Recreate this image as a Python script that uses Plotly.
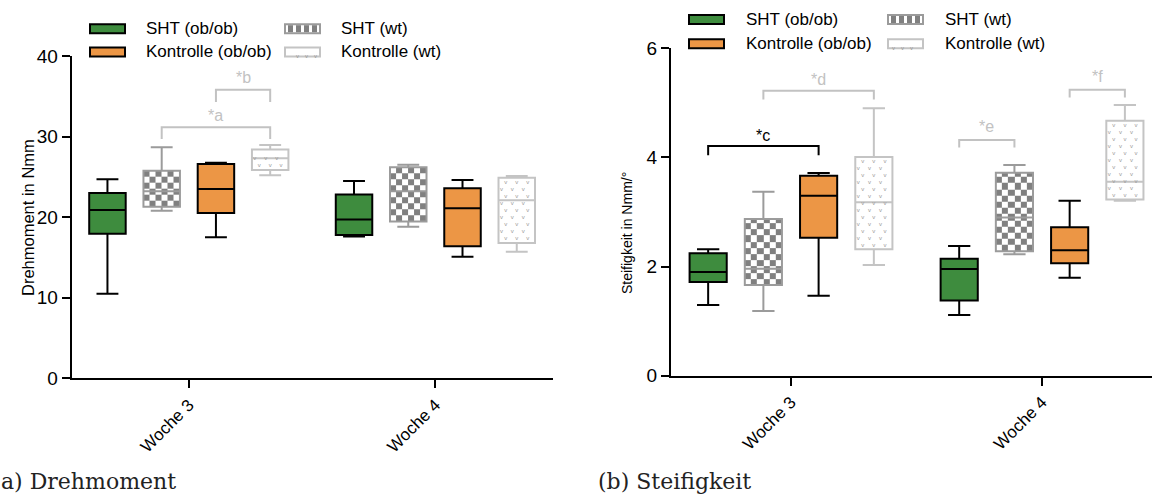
import numpy as np
import plotly.graph_objects as go

W, H = 1152, 495

categories = ["Woche 3", "Woche 4"]
groups = ["SHT (ob/ob)", "SHT (wt)", "Kontrolle (ob/ob)", "Kontrolle (wt)"]

# five-number summaries [lower whisker, Q1, median, Q3, upper whisker] for [Woche 3, Woche 4]
dreh_sht_ob = [[10.5, 17.95, 20.9, 23.0, 24.7], [17.6, 17.8, 19.7, 22.8, 24.5]]
dreh_sht_wt = [[20.8, 21.3, 23.2, 25.77, 28.67], [18.8, 19.45, 23.2, 26.2, 26.5]]
dreh_kon_ob = [[17.5, 20.5, 23.5, 26.6, 26.76], [15.1, 16.4, 21.1, 23.6, 24.6]]
dreh_kon_wt = [[25.2, 25.85, 27.3, 28.4, 28.96], [15.7, 16.8, 22.1, 24.9, 25.1]]

steif_sht_ob = [[1.296, 1.717, 1.90, 2.243, 2.316], [1.112, 1.38, 1.955, 2.144, 2.377]]
steif_sht_wt = [[1.186, 1.662, 1.96, 2.87, 3.37], [2.225, 2.28, 2.90, 3.72, 3.86]]
steif_kon_ob = [[1.466, 2.53, 3.30, 3.665, 3.715], [1.796, 2.06, 2.30, 2.72, 3.207]]
steif_kon_wt = [[2.03, 2.316, 3.18, 4.008, 4.90], [3.207, 3.23, 3.555, 4.67, 4.96]]

# significance brackets: (label, category index, group from, group to, bracket y, leg end y, label y, colour key)
dreh_sig = [("*a", 0, 1, 3, 31.15, 29.7, 32.6, "grey"),
            ("*b", 0, 2, 3, 35.8, 34.3, 37.3, "grey")]
steif_sig = [("*c", 0, 0, 2, 4.21, 4.04, 4.40, "black"),
             ("*d", 0, 1, 3, 5.22, 5.06, 5.43, "grey"),
             ("*e", 1, 0, 1, 4.32, 4.18, 4.57, "grey"),
             ("*f", 1, 2, 3, 5.24, 5.10, 5.49, "grey")]

GREEN = "#3E8C3E"
ORANGE = "#EC9645"
CHK_LINE = "#9B9B9B"
CHK_FILL = "#808080"
KWT_LINE = "#C4C4C4"
V_COL = "#9A9A9A"
SIG_GREY = "#C2C2C2"
FONT = "Liberation Sans, Arial, sans-serif"

offsets = [-0.33, -0.11, 0.11, 0.33]
box_w = 0.148

panels = [
    dict(xa="x", ya="y", xd=[71.7 / W, 553 / W], yd=[1 - 378.3 / H, 1 - 56 / H],
         xr=[-0.475, 1.477], yr=[0, 40], dtick=10,
         data=[dreh_sht_ob, dreh_sht_wt, dreh_kon_ob, dreh_kon_wt], sig=dreh_sig),
    dict(xa="x2", ya="y2", xd=[671 / W, 1.0], yd=[1 - 375.7 / H, 1 - 48.3 / H],
         xr=[-0.478, 1.438], yr=[0, 6], dtick=2,
         data=[steif_sht_ob, steif_sht_wt, steif_kon_ob, steif_kon_wt], sig=steif_sig),
]

styles = [
    dict(fill=GREEN, line="black"),
    dict(fill="rgba(0,0,0,0)", line=CHK_LINE),
    dict(fill=ORANGE, line="black"),
    dict(fill="rgba(0,0,0,0)", line=KWT_LINE),
]

fig = go.Figure()

for p in panels:
    ppx = (p["xd"][1] - p["xd"][0]) * W / (p["xr"][1] - p["xr"][0])
    ppy = (p["yd"][1] - p["yd"][0]) * H / (p["yr"][1] - p["yr"][0])
    # decorative patterns
    for gi, g in enumerate(groups):
        for ci, summ in enumerate(p["data"][gi]):
            c = ci + offsets[gi]
            q1, q3 = summ[1], summ[3]
            if gi == 1:
                ncol = 6
                xe = np.linspace(c - box_w / 2, c + box_w / 2, ncol + 1)
                sq = (box_w / ncol) * ppx / ppy
                ye = list(np.arange(q1, q3, sq))
                if q3 - ye[-1] > 1e-9:
                    ye.append(q3)
                z = [[(i + j) % 2 for j in range(ncol)] for i in range(len(ye) - 1)]
                fig.add_trace(go.Heatmap(x=xe, y=ye, z=z, xaxis=p["xa"], yaxis=p["ya"],
                                         colorscale=[[0, "white"], [1, CHK_FILL]], zmin=0, zmax=1,
                                         showscale=False, hoverinfo="skip"))
            if gi == 3:
                dy = 7.0 / ppy
                xs, ys = [], []
                y = q1 + dy * 0.6
                r = 0
                while y < q3 - dy * 0.4:
                    fr = [0.2, 0.5, 0.8] if r % 2 == 0 else [0.08, 0.38, 0.68]
                    for f in fr:
                        xs.append(c - box_w / 2 + f * box_w)
                        ys.append(y)
                    y += dy
                    r += 1
                fig.add_trace(go.Scatter(x=xs, y=ys, mode="text", text=["v"] * len(xs),
                                         textfont=dict(size=6, color=V_COL, family=FONT),
                                         xaxis=p["xa"], yaxis=p["ya"], hoverinfo="skip",
                                         showlegend=False))
    # boxes
    for gi, g in enumerate(groups):
        d = p["data"][gi]
        fig.add_trace(go.Box(
            x=[ci + offsets[gi] for ci in range(len(categories))],
            lowerfence=[s[0] for s in d], q1=[s[1] for s in d], median=[s[2] for s in d],
            q3=[s[3] for s in d], upperfence=[s[4] for s in d],
            width=box_w, whiskerwidth=0.6, boxpoints=False,
            fillcolor=styles[gi]["fill"], line=dict(color=styles[gi]["line"], width=2),
            name=g, showlegend=False, xaxis=p["xa"], yaxis=p["ya"], hoverinfo="skip"))
    # significance brackets
    for lab, ci, ga, gb, yb, yl, ylab, col in p["sig"]:
        colr = "black" if col == "black" else SIG_GREY
        xa_ = ci + offsets[ga]
        xb_ = ci + offsets[gb]
        fig.add_trace(go.Scatter(x=[xa_, xa_, xb_, xb_], y=[yl, yb, yb, yl], mode="lines",
                                 line=dict(color=colr, width=2), xaxis=p["xa"], yaxis=p["ya"],
                                 hoverinfo="skip", showlegend=False))
        fig.add_annotation(x=(xa_ + xb_) / 2, y=ylab, xref=p["xa"], yref=p["ya"], text=lab,
                           showarrow=False, font=dict(size=16, color=colr, family=FONT),
                           xanchor="center", yanchor="middle")

axis_common = dict(showline=True, linecolor="black", linewidth=2, ticks="outside", ticklen=8,
                   tickwidth=2, tickcolor="black", showgrid=False, zeroline=False,
                   automargin=False, tickfont=dict(size=19, family=FONT, color="black"))

layout_axes = {}
for i, p in enumerate(panels):
    sx = "" if i == 0 else "2"
    layout_axes["xaxis" + sx] = dict(axis_common, domain=p["xd"], range=p["xr"],
                                     tickvals=list(range(len(categories))), ticktext=categories,
                                     tickangle=-45, anchor=p["ya"],
                                     tickfont=dict(size=17, family=FONT, color="black"))
    layout_axes["yaxis" + sx] = dict(axis_common, domain=p["yd"], range=p["yr"],
                                     tick0=0, dtick=p["dtick"], anchor=p["xa"])

fig.update_layout(width=W, height=H, margin=dict(l=0, r=0, t=0, b=0, pad=0, autoexpand=False),
                  paper_bgcolor="white", plot_bgcolor="white", showlegend=False,
                  **layout_axes)


def px(x):
    return x / W


def py(y):
    return 1 - y / H


# manual legends (wide flat swatches like the original)
legend_sets = [
    dict(cols=[90, 285], text_x=[144, 339], rows=[28.7, 51.9]),
    dict(cols=[689, 888], text_x=[743.5, 943], rows=[19.5, 43.8]),
]
legend_layout = [(0, 0, groups[0]), (0, 1, groups[2]), (1, 0, groups[1]), (1, 1, groups[3])]
sw_w, sw_h = 35, 9

for ls in legend_sets:
    for col, row, g in legend_layout:
        x0 = ls["cols"][col]
        yc = ls["rows"][row]
        gi = groups.index(g)
        if gi in (0, 2):
            fig.add_shape(type="rect", xref="paper", yref="paper", x0=px(x0), x1=px(x0 + sw_w),
                          y0=py(yc + sw_h / 2), y1=py(yc - sw_h / 2),
                          fillcolor=GREEN if gi == 0 else ORANGE, line=dict(color="black", width=2))
        elif gi == 1:
            fig.add_shape(type="rect", xref="paper", yref="paper", x0=px(x0), x1=px(x0 + sw_w),
                          y0=py(yc + sw_h / 2), y1=py(yc - sw_h / 2),
                          fillcolor="white", line=dict(color=CHK_LINE, width=2))
            for k in range(4):
                bx = x0 + 3 + k * 8
                fig.add_shape(type="rect", xref="paper", yref="paper", x0=px(bx), x1=px(bx + 5),
                              y0=py(yc + sw_h / 2 - 1), y1=py(yc - sw_h / 2 + 1),
                              fillcolor=CHK_FILL, line=dict(width=0))
        else:
            fig.add_shape(type="rect", xref="paper", yref="paper", x0=px(x0), x1=px(x0 + sw_w),
                          y0=py(yc + sw_h / 2), y1=py(yc - sw_h / 2),
                          fillcolor="white", line=dict(color=KWT_LINE, width=2))
            for k in range(3):
                fig.add_annotation(x=px(x0 + 9 + k * 9), y=py(yc - 0.5), xref="paper", yref="paper",
                                   text="v", showarrow=False,
                                   font=dict(size=6, color=V_COL, family=FONT))
        fig.add_annotation(x=px(ls["text_x"][col]), y=py(yc), xref="paper", yref="paper", text=g,
                           showarrow=False, xanchor="left", yanchor="middle",
                           font=dict(size=17, color="black", family=FONT))

# axis titles
fig.add_annotation(x=px(17), y=py(218), xref="paper", yref="paper", text="Drehmoment in Nmm",
                   textangle=-90, showarrow=False, font=dict(size=16.5, color="black", family=FONT))
fig.add_annotation(x=px(627), y=py(233), xref="paper", yref="paper", text="Steifigkeit in Nmm/°",
                   textangle=-90, showarrow=False, font=dict(size=14, color="black", family=FONT))

# captions (left caption is clipped at the page edge in the original, showing "a) Drehmoment")
fig.add_annotation(x=px(-1), y=py(481), xref="paper", yref="paper", text="a) Drehmoment",
                   showarrow=False, xanchor="left", yanchor="middle",
                   font=dict(size=22, color="#222222", family="DejaVu Serif, serif"))
fig.add_annotation(x=px(596), y=py(481), xref="paper", yref="paper", text="(b) Steifigkeit",
                   showarrow=False, xanchor="left", yanchor="middle",
                   font=dict(size=22, color="#222222", family="DejaVu Serif, serif"))

fig.write_html("out.html")
